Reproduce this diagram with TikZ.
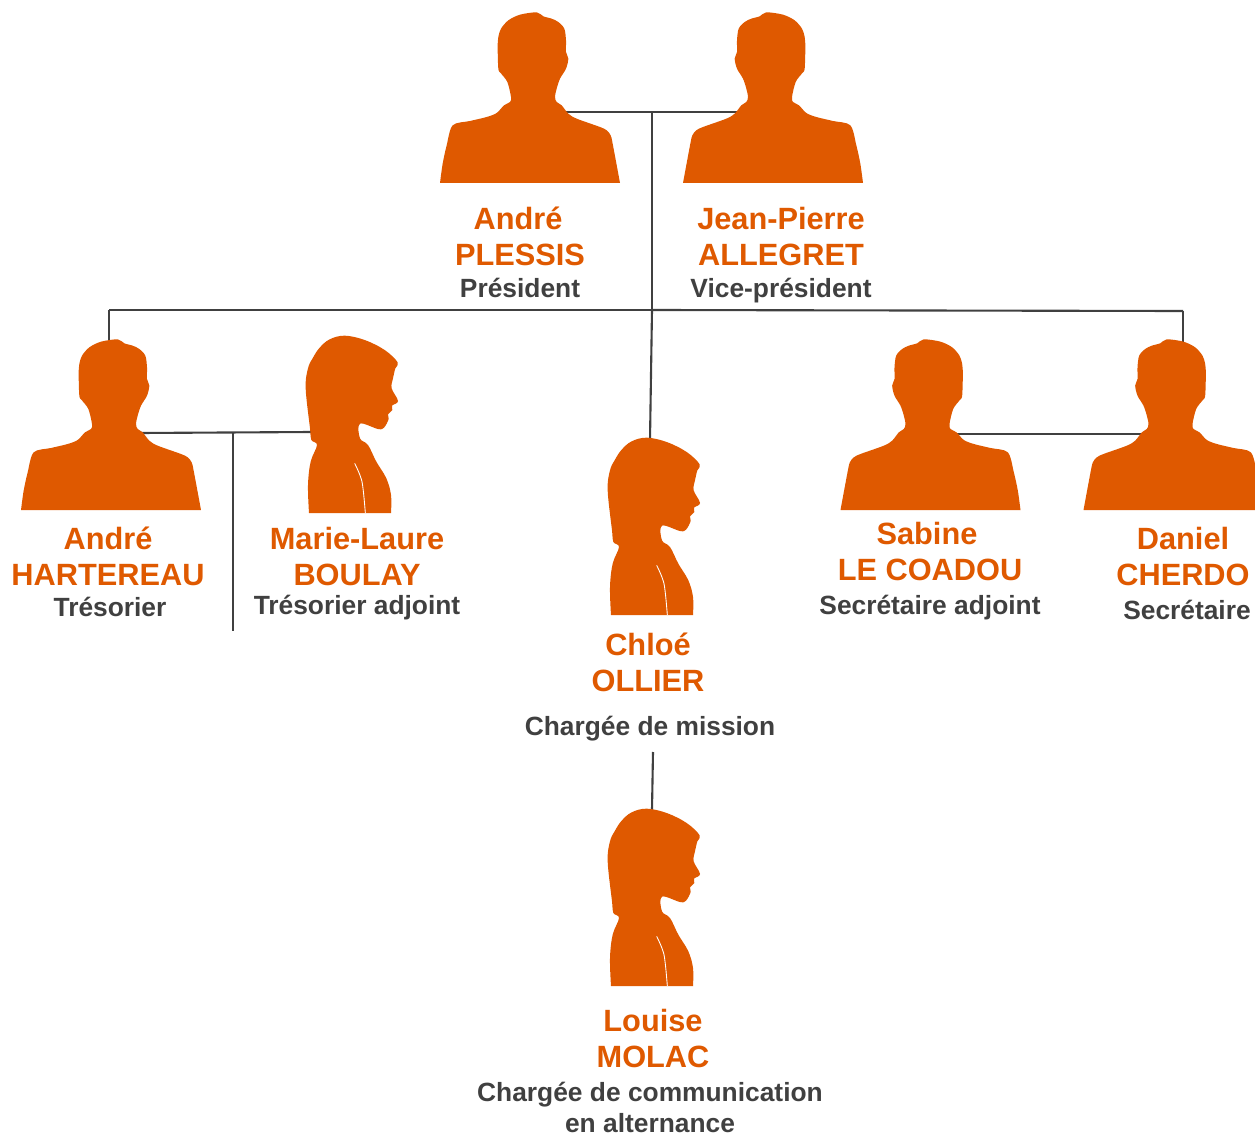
\documentclass[tikz,border=0pt]{standalone}
\usepackage{fontspec}
\setmainfont{Liberation Sans}
\definecolor{silhouette}{HTML}{DF5900}
\definecolor{wire}{HTML}{404040}
\tikzset{
    man/.pic={
        \fill[silhouette,shift={(-30,-548)}] plot[smooth,tension=.5] coordinates {(30,548) (38,490) (50,435) (68,375) (120,362) (170,350) (200,338) (222,315) (240,305) (243,290) (232,245) (212,218) (205,205) (203,140) (205,110) (213,85) (235,60) (270,43) (320,36) (340,48) (365,55) (385,65) (403,85) (408,120) (408,155) (415,175) (408,205) (390,235) (380,265) (375,290) (380,305) (395,315) (415,340) (440,355) (510,380) (530,390) (542,405) (548,430) (570,548)} -- cycle;
    },
    woman/.pic={
        \fill[silhouette,shift={(-63,-554)}] plot[smooth,tension=.6] coordinates {(63,554) (60,470) (68,400) (87,350) (70,335) (66,300) (53,180) (60,120) (75,88) (95,58) (125,33) (170,22) (230,35) (290,65) (329,102) (322,120) (315,150) (311,180) (330,218) (312,232) (313,245) (300,258) (302,272) (288,298) (270,302) (216,286) (216,330) (240,350) (265,400) (295,450) (309,500) (309,554)} -- cycle;
        \draw[white,line width=.5pt,shift={(-63,-554)}] plot[smooth] coordinates {(200,405) (222,460) (232,554)};
    },
    namelabel/.style={anchor=base,inner sep=0pt,text=silhouette,font=\fontsize{17.5}{20}\selectfont\bfseries},
    rolelabel/.style={anchor=base,inner sep=0pt,text=wire,font=\fontsize{15}{18}\selectfont\bfseries},
    wireline/.style={draw=wire,line width=1.2pt}
}
\begin{document}
\begin{tikzpicture}[x=0.02cm,y=-0.02cm]
        \useasboundingbox (0,0) rectangle (1255,1135);
        % junctions
        \coordinate (topL) at (565,112);
        \coordinate (topR) at (738,112);
        \coordinate (topMid) at (652,112);
        \coordinate (barL) at (109,310);
        \coordinate (barMid) at (652,310);
        \coordinate (barR) at (1183,311);
        \coordinate (dropL) at (109,342);
        \coordinate (dropR) at (1183,342);
        \coordinate (chloeTop) at (650,440);
        \coordinate (treasL) at (140,433);
        \coordinate (treasMid) at (233,433);
        \coordinate (treasR) at (312,432);
        \coordinate (treasEnd) at (233,631);
        \coordinate (secL) at (955,434);
        \coordinate (secR) at (1147,434);
        \coordinate (louiseFrom) at (653,752);
        \coordinate (louiseTop) at (652,810);
        \path [wireline] (topL) -- (topR);
        \path [wireline] (topMid) -- (barMid);
        \path [wireline] (barL) -- (barMid);
        \path [wireline] (barMid) -- (barR);
        \path [wireline] (barL) -- (dropL);
        \path [wireline] (barR) -- (dropR);
        \path [wireline] (barMid) -- (chloeTop);
        \path [wireline] (treasL) -- (treasR);
        \path [wireline] (treasMid) -- (treasEnd);
        \path [wireline] (secL) -- (secR);
        \path [wireline] (louiseFrom) -- (louiseTop);
        % silhouettes
        \pic[scale=1/3] at (440,183) {man};
        \pic[xscale=-1/3,yscale=1/3] at (863,183) {man};
        \pic[scale=1/3] at (21,510) {man};
        \pic[xscale=-1/3,yscale=1/3] at (1020.5,510) {man};
        \pic[xscale=-1/3,yscale=1/3] at (1263.5,510) {man};
        \pic[scale=1/3] at (309,513) {woman};
        \pic[scale=1/3] at (611,615) {woman};
        \pic[scale=1/3] at (611,986) {woman};
        % names
        \begin{scope}[every node/.style={namelabel}]
            \node (n1a) at (518,229.5) {André};
            \node (n1b) at (520,265.5) {PLESSIS};
            \node (n2a) at (781,229.5) {Jean-Pierre};
            \node (n2b) at (781,265.5) {ALLEGRET};
            \node (n3a) at (108,549.5) {André};
            \node (n3b) at (108,585.5) {HARTEREAU};
            \node (n4a) at (357,549.5) {Marie-Laure};
            \node (n4b) at (357,585.5) {BOULAY};
            \node (n5a) at (927,544.5) {Sabine};
            \node (n5b) at (930,580.5) {LE COADOU};
            \node (n6a) at (1183,549.5) {Daniel};
            \node (n6b) at (1183,585.5) {CHERDO};
            \node (n7a) at (648,655.5) {Chloé};
            \node (n7b) at (648,691.5) {OLLIER};
            \node (n8a) at (653,1031.5) {Louise};
            \node (n8b) at (653,1067.5) {MOLAC};
        \end{scope}
        % roles
        \begin{scope}[every node/.style={rolelabel}]
            \node (r1) at (520,298) {Président};
            \node (r2) at (781,298) {Vice-président};
            \node (r3) at (110,616) {Trésorier};
            \node (r4) at (357,614) {Trésorier adjoint};
            \node (r5) at (930,614) {Secrétaire adjoint};
            \node (r6) at (1187,619) {Secrétaire};
            \node (r7) at (650,735) {Chargée de mission};
            \node (r8a) at (650,1101) {Chargée de communication};
            \node (r8b) at (650,1132) {en alternance};
        \end{scope}
    \end{tikzpicture}
\end{document}
